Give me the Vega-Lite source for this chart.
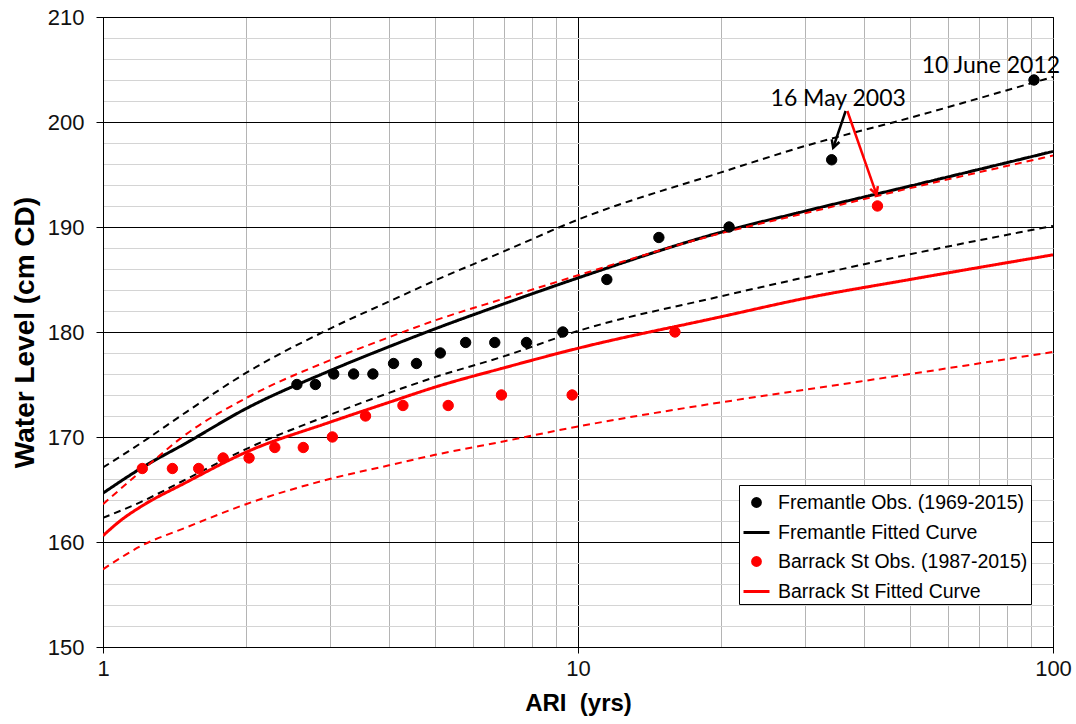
{
  "$schema": "https://vega.github.io/schema/vega-lite/v6.json",
  "autosize": "none",
  "width": 950,
  "height": 630,
  "padding": {"left": 103, "top": 17, "right": 23, "bottom": 77},
  "background": "white",
  "config": {
    "view": {"stroke": "#000", "strokeWidth": 1},
    "font": "Liberation Sans",
    "legend": {
      "orient": "none",
      "legendX": 636,
      "legendY": 468,
      "direction": "vertical",
      "fillColor": "#ffffff",
      "strokeColor": "#000000",
      "padding": 3,
      "rowPadding": 5,
      "symbolSize": 676,
      "symbolStrokeWidth": 3,
      "symbolOpacity": 1,
      "labelOffset": 7,
      "labelFont": "Liberation Sans",
      "labelFontSize": 19.5,
      "labelColor": "#000000",
      "labelLimit": 400
    }
  },
  "datasets": {
    "curves": [
      {"curve": "F fit", "series": "Fremantle Fitted Curve", "kind": "fit", "ari": 1, "level": 164.65},
      {"curve": "F fit", "series": "Fremantle Fitted Curve", "kind": "fit", "ari": 1.2, "level": 167.0},
      {"curve": "F fit", "series": "Fremantle Fitted Curve", "kind": "fit", "ari": 1.5, "level": 169.45},
      {"curve": "F fit", "series": "Fremantle Fitted Curve", "kind": "fit", "ari": 2, "level": 172.7},
      {"curve": "F fit", "series": "Fremantle Fitted Curve", "kind": "fit", "ari": 3, "level": 176.3},
      {"curve": "F fit", "series": "Fremantle Fitted Curve", "kind": "fit", "ari": 4, "level": 178.6},
      {"curve": "F fit", "series": "Fremantle Fitted Curve", "kind": "fit", "ari": 5, "level": 180.3},
      {"curve": "F fit", "series": "Fremantle Fitted Curve", "kind": "fit", "ari": 7, "level": 182.7},
      {"curve": "F fit", "series": "Fremantle Fitted Curve", "kind": "fit", "ari": 10, "level": 185.15},
      {"curve": "F fit", "series": "Fremantle Fitted Curve", "kind": "fit", "ari": 20, "level": 189.5},
      {"curve": "F fit", "series": "Fremantle Fitted Curve", "kind": "fit", "ari": 30, "level": 191.5},
      {"curve": "F fit", "series": "Fremantle Fitted Curve", "kind": "fit", "ari": 50, "level": 193.9},
      {"curve": "F fit", "series": "Fremantle Fitted Curve", "kind": "fit", "ari": 100, "level": 197.2},

      {"curve": "F upper", "series": "Fremantle Fitted Curve", "kind": "bound", "ari": 1, "level": 167.1},
      {"curve": "F upper", "series": "Fremantle Fitted Curve", "kind": "bound", "ari": 1.2, "level": 169.4},
      {"curve": "F upper", "series": "Fremantle Fitted Curve", "kind": "bound", "ari": 1.5, "level": 172.4},
      {"curve": "F upper", "series": "Fremantle Fitted Curve", "kind": "bound", "ari": 2, "level": 176.1},
      {"curve": "F upper", "series": "Fremantle Fitted Curve", "kind": "bound", "ari": 3, "level": 180.3},
      {"curve": "F upper", "series": "Fremantle Fitted Curve", "kind": "bound", "ari": 4, "level": 182.9},
      {"curve": "F upper", "series": "Fremantle Fitted Curve", "kind": "bound", "ari": 5, "level": 184.9},
      {"curve": "F upper", "series": "Fremantle Fitted Curve", "kind": "bound", "ari": 7, "level": 187.7},
      {"curve": "F upper", "series": "Fremantle Fitted Curve", "kind": "bound", "ari": 10, "level": 190.7},
      {"curve": "F upper", "series": "Fremantle Fitted Curve", "kind": "bound", "ari": 20, "level": 195.2},
      {"curve": "F upper", "series": "Fremantle Fitted Curve", "kind": "bound", "ari": 30, "level": 197.7},
      {"curve": "F upper", "series": "Fremantle Fitted Curve", "kind": "bound", "ari": 50, "level": 200.4},
      {"curve": "F upper", "series": "Fremantle Fitted Curve", "kind": "bound", "ari": 100, "level": 204.3},

      {"curve": "F lower", "series": "Fremantle Fitted Curve", "kind": "bound", "ari": 1, "level": 162.3},
      {"curve": "F lower", "series": "Fremantle Fitted Curve", "kind": "bound", "ari": 1.2, "level": 163.8},
      {"curve": "F lower", "series": "Fremantle Fitted Curve", "kind": "bound", "ari": 1.5, "level": 166.0},
      {"curve": "F lower", "series": "Fremantle Fitted Curve", "kind": "bound", "ari": 2, "level": 168.85},
      {"curve": "F lower", "series": "Fremantle Fitted Curve", "kind": "bound", "ari": 3, "level": 172.1},
      {"curve": "F lower", "series": "Fremantle Fitted Curve", "kind": "bound", "ari": 4, "level": 174.2},
      {"curve": "F lower", "series": "Fremantle Fitted Curve", "kind": "bound", "ari": 5, "level": 175.7},
      {"curve": "F lower", "series": "Fremantle Fitted Curve", "kind": "bound", "ari": 7, "level": 177.7},
      {"curve": "F lower", "series": "Fremantle Fitted Curve", "kind": "bound", "ari": 10, "level": 180.1},
      {"curve": "F lower", "series": "Fremantle Fitted Curve", "kind": "bound", "ari": 20, "level": 183.4},
      {"curve": "F lower", "series": "Fremantle Fitted Curve", "kind": "bound", "ari": 30, "level": 185.2},
      {"curve": "F lower", "series": "Fremantle Fitted Curve", "kind": "bound", "ari": 50, "level": 187.4},
      {"curve": "F lower", "series": "Fremantle Fitted Curve", "kind": "bound", "ari": 100, "level": 190.1},

      {"curve": "B fit", "series": "Barrack St Fitted Curve", "kind": "fit", "ari": 1, "level": 160.6},
      {"curve": "B fit", "series": "Barrack St Fitted Curve", "kind": "fit", "ari": 1.1, "level": 162.2},
      {"curve": "B fit", "series": "Barrack St Fitted Curve", "kind": "fit", "ari": 1.2, "level": 163.35},
      {"curve": "B fit", "series": "Barrack St Fitted Curve", "kind": "fit", "ari": 1.5, "level": 165.7},
      {"curve": "B fit", "series": "Barrack St Fitted Curve", "kind": "fit", "ari": 2, "level": 168.55},
      {"curve": "B fit", "series": "Barrack St Fitted Curve", "kind": "fit", "ari": 3, "level": 171.4},
      {"curve": "B fit", "series": "Barrack St Fitted Curve", "kind": "fit", "ari": 4, "level": 173.3},
      {"curve": "B fit", "series": "Barrack St Fitted Curve", "kind": "fit", "ari": 5, "level": 174.75},
      {"curve": "B fit", "series": "Barrack St Fitted Curve", "kind": "fit", "ari": 7, "level": 176.6},
      {"curve": "B fit", "series": "Barrack St Fitted Curve", "kind": "fit", "ari": 10, "level": 178.45},
      {"curve": "B fit", "series": "Barrack St Fitted Curve", "kind": "fit", "ari": 20, "level": 181.45},
      {"curve": "B fit", "series": "Barrack St Fitted Curve", "kind": "fit", "ari": 30, "level": 183.2},
      {"curve": "B fit", "series": "Barrack St Fitted Curve", "kind": "fit", "ari": 50, "level": 185.0},
      {"curve": "B fit", "series": "Barrack St Fitted Curve", "kind": "fit", "ari": 100, "level": 187.35},

      {"curve": "B upper", "series": "Barrack St Fitted Curve", "kind": "bound", "ari": 1, "level": 163.6},
      {"curve": "B upper", "series": "Barrack St Fitted Curve", "kind": "bound", "ari": 1.2, "level": 166.7},
      {"curve": "B upper", "series": "Barrack St Fitted Curve", "kind": "bound", "ari": 1.5, "level": 170.3},
      {"curve": "B upper", "series": "Barrack St Fitted Curve", "kind": "bound", "ari": 2, "level": 173.7},
      {"curve": "B upper", "series": "Barrack St Fitted Curve", "kind": "bound", "ari": 3, "level": 177.3},
      {"curve": "B upper", "series": "Barrack St Fitted Curve", "kind": "bound", "ari": 4, "level": 179.5},
      {"curve": "B upper", "series": "Barrack St Fitted Curve", "kind": "bound", "ari": 5, "level": 181.1},
      {"curve": "B upper", "series": "Barrack St Fitted Curve", "kind": "bound", "ari": 7, "level": 183.2},
      {"curve": "B upper", "series": "Barrack St Fitted Curve", "kind": "bound", "ari": 10, "level": 185.4},
      {"curve": "B upper", "series": "Barrack St Fitted Curve", "kind": "bound", "ari": 20, "level": 189.4},
      {"curve": "B upper", "series": "Barrack St Fitted Curve", "kind": "bound", "ari": 30, "level": 191.3},
      {"curve": "B upper", "series": "Barrack St Fitted Curve", "kind": "bound", "ari": 50, "level": 193.7},
      {"curve": "B upper", "series": "Barrack St Fitted Curve", "kind": "bound", "ari": 100, "level": 196.8},

      {"curve": "B lower", "series": "Barrack St Fitted Curve", "kind": "bound", "ari": 1, "level": 157.4},
      {"curve": "B lower", "series": "Barrack St Fitted Curve", "kind": "bound", "ari": 1.2, "level": 159.6},
      {"curve": "B lower", "series": "Barrack St Fitted Curve", "kind": "bound", "ari": 1.5, "level": 161.4},
      {"curve": "B lower", "series": "Barrack St Fitted Curve", "kind": "bound", "ari": 2, "level": 163.6},
      {"curve": "B lower", "series": "Barrack St Fitted Curve", "kind": "bound", "ari": 3, "level": 166.0},
      {"curve": "B lower", "series": "Barrack St Fitted Curve", "kind": "bound", "ari": 4, "level": 167.3},
      {"curve": "B lower", "series": "Barrack St Fitted Curve", "kind": "bound", "ari": 5, "level": 168.3},
      {"curve": "B lower", "series": "Barrack St Fitted Curve", "kind": "bound", "ari": 7, "level": 169.6},
      {"curve": "B lower", "series": "Barrack St Fitted Curve", "kind": "bound", "ari": 10, "level": 171.0},
      {"curve": "B lower", "series": "Barrack St Fitted Curve", "kind": "bound", "ari": 20, "level": 173.3},
      {"curve": "B lower", "series": "Barrack St Fitted Curve", "kind": "bound", "ari": 30, "level": 174.5},
      {"curve": "B lower", "series": "Barrack St Fitted Curve", "kind": "bound", "ari": 50, "level": 176.0},
      {"curve": "B lower", "series": "Barrack St Fitted Curve", "kind": "bound", "ari": 100, "level": 178.1}
    ],
    "obs": [
      {"series": "Fremantle Obs. (1969-2015)", "ari": 2.56, "level": 175},
      {"series": "Fremantle Obs. (1969-2015)", "ari": 2.80, "level": 175},
      {"series": "Fremantle Obs. (1969-2015)", "ari": 3.06, "level": 176},
      {"series": "Fremantle Obs. (1969-2015)", "ari": 3.37, "level": 176},
      {"series": "Fremantle Obs. (1969-2015)", "ari": 3.70, "level": 176},
      {"series": "Fremantle Obs. (1969-2015)", "ari": 4.09, "level": 177},
      {"series": "Fremantle Obs. (1969-2015)", "ari": 4.57, "level": 177},
      {"series": "Fremantle Obs. (1969-2015)", "ari": 5.13, "level": 178},
      {"series": "Fremantle Obs. (1969-2015)", "ari": 5.80, "level": 179},
      {"series": "Fremantle Obs. (1969-2015)", "ari": 6.68, "level": 179},
      {"series": "Fremantle Obs. (1969-2015)", "ari": 7.79, "level": 179},
      {"series": "Fremantle Obs. (1969-2015)", "ari": 9.29, "level": 180},
      {"series": "Fremantle Obs. (1969-2015)", "ari": 11.5, "level": 185},
      {"series": "Fremantle Obs. (1969-2015)", "ari": 14.8, "level": 189},
      {"series": "Fremantle Obs. (1969-2015)", "ari": 20.8, "level": 190},
      {"series": "Fremantle Obs. (1969-2015)", "ari": 34.2, "level": 196.4},
      {"series": "Fremantle Obs. (1969-2015)", "ari": 91.2, "level": 204},
      {"series": "Barrack St Obs. (1987-2015)", "ari": 1.21, "level": 167},
      {"series": "Barrack St Obs. (1987-2015)", "ari": 1.40, "level": 167},
      {"series": "Barrack St Obs. (1987-2015)", "ari": 1.59, "level": 167},
      {"series": "Barrack St Obs. (1987-2015)", "ari": 1.79, "level": 168},
      {"series": "Barrack St Obs. (1987-2015)", "ari": 2.03, "level": 168},
      {"series": "Barrack St Obs. (1987-2015)", "ari": 2.30, "level": 169},
      {"series": "Barrack St Obs. (1987-2015)", "ari": 2.64, "level": 169},
      {"series": "Barrack St Obs. (1987-2015)", "ari": 3.04, "level": 170},
      {"series": "Barrack St Obs. (1987-2015)", "ari": 3.57, "level": 172},
      {"series": "Barrack St Obs. (1987-2015)", "ari": 4.28, "level": 173},
      {"series": "Barrack St Obs. (1987-2015)", "ari": 5.33, "level": 173},
      {"series": "Barrack St Obs. (1987-2015)", "ari": 6.90, "level": 174},
      {"series": "Barrack St Obs. (1987-2015)", "ari": 9.72, "level": 174},
      {"series": "Barrack St Obs. (1987-2015)", "ari": 16.0, "level": 180},
      {"series": "Barrack St Obs. (1987-2015)", "ari": 42.7, "level": 192}
    ],
    "notes": [
      {"label": "10 June 2012", "ari": 74, "level": 205.3},
      {"label": "16 May 2003", "ari": 35.3, "level": 202.2}
    ],
    "arrows": [
      {"event": "Fremantle", "ari": 36.6, "level": 201.05, "ari2": 34.45, "level2": 197.55},
      {"event": "Barrack St", "ari": 36.9, "level": 201.05, "ari2": 42.5, "level2": 193.1}
    ]
  },
  "encoding": {
    "x": {
      "field": "ari", "type": "quantitative",
      "scale": {"type": "log", "domain": [1, 100], "nice": false},
      "axis": {
        "title": "ARI\u00a0 (yrs)",
        "values": [1, 2, 3, 4, 5, 6, 7, 8, 9, 10, 20, 30, 40, 50, 60, 70, 80, 90, 100],
        "labelExpr": "datum.value == 1 || datum.value == 10 || datum.value == 100 ? format(datum.value, 'd') : ''",
        "grid": true,
        "gridColor": {"condition": {"test": "datum.value == 1 || datum.value == 10 || datum.value == 100", "value": "#000000"}, "value": "#b4b4b4"},
        "gridWidth": 1,
        "tickColor": {"condition": {"test": "datum.value == 1 || datum.value == 10 || datum.value == 100", "value": "#000000"}, "value": "transparent"},
        "tickSize": 6,
        "domainColor": "#000000",
        "labelFont": "Liberation Sans", "labelFontSize": 22, "labelColor": "#111111", "labelPadding": 5,
        "labelFlush": false, "labelOverlap": false,
        "titleFont": "Liberation Sans", "titleFontSize": 24, "titleFontWeight": "bold", "titleColor": "#000000", "titlePadding": 12
      }
    },
    "y": {
      "field": "level", "type": "quantitative",
      "scale": {"domain": [150, 210], "nice": false, "zero": false},
      "axis": {
        "title": "Water Level (cm CD)",
        "values": [150, 152, 154, 156, 158, 160, 162, 164, 166, 168, 170, 172, 174, 176, 178, 180, 182, 184, 186, 188, 190, 192, 194, 196, 198, 200, 202, 204, 206, 208, 210],
        "labelExpr": "datum.value % 10 == 0 ? format(datum.value, 'd') : ''",
        "grid": true,
        "gridColor": {"condition": {"test": "datum.value % 10 == 0", "value": "#000000"}, "value": "#d4d4d4"},
        "gridWidth": 1,
        "tickColor": {"condition": {"test": "datum.value % 10 == 0", "value": "#000000"}, "value": "transparent"},
        "tickSize": 7,
        "domainColor": "#000000",
        "labelFont": "Liberation Sans", "labelFontSize": 22, "labelColor": "#111111", "labelPadding": 12,
        "labelOverlap": false,
        "titleFont": "Liberation Sans", "titleFontSize": 28, "titleFontWeight": "bold", "titleColor": "#000000", "titlePadding": 8
      }
    }
  },
  "layer": [
    {
      "data": {"name": "curves"},
      "mark": {"type": "line", "interpolate": "monotone", "clip": true},
      "encoding": {
        "detail": {"field": "curve"},
        "stroke": {
          "field": "series", "type": "nominal",
          "scale": {
            "domain": ["Fremantle Obs. (1969-2015)", "Fremantle Fitted Curve", "Barrack St Obs. (1987-2015)", "Barrack St Fitted Curve"],
            "range": ["#000000", "#000000", "#ff0000", "#ff0000"]
          },
          "legend": {"title": null}
        },
        "strokeDash": {"field": "kind", "type": "nominal", "scale": {"domain": ["fit", "bound"], "range": [[1, 0], [7, 5]]}, "legend": null},
        "strokeWidth": {"field": "kind", "type": "nominal", "scale": {"domain": ["fit", "bound"], "range": [3, 2]}, "legend": null}
      }
    },
    {
      "data": {"name": "obs"},
      "mark": {"type": "point", "filled": true, "size": 1200, "opacity": 1, "strokeWidth": 1},
      "encoding": {
        "fill": {
          "field": "series", "type": "nominal",
          "scale": {
            "domain": ["Fremantle Obs. (1969-2015)", "Fremantle Fitted Curve", "Barrack St Obs. (1987-2015)", "Barrack St Fitted Curve"],
            "range": ["#000000", "#000000", "#ff0000", "#ff0000"]
          },
          "legend": {"title": null}
        },
        "stroke": {"field": "series", "type": "nominal", "legend": {"title": null}},
        "shape": {
          "field": "series", "type": "nominal",
          "scale": {
            "domain": ["Fremantle Obs. (1969-2015)", "Fremantle Fitted Curve", "Barrack St Obs. (1987-2015)", "Barrack St Fitted Curve"],
            "range": [
              "M -0.3 0 A 0.3 0.3 0 1 1 0.3 0 A 0.3 0.3 0 1 1 -0.3 0 Z",
              "stroke",
              "M -0.3 0 A 0.3 0.3 0 1 1 0.3 0 A 0.3 0.3 0 1 1 -0.3 0 Z",
              "stroke"
            ]
          },
          "legend": {"title": null}
        }
      }
    },
    {
      "data": {"name": "arrows"},
      "transform": [{"filter": "datum.event == 'Fremantle'"}],
      "mark": {"type": "rule", "color": "#000000", "strokeWidth": 2.5},
      "encoding": {"x2": {"field": "ari2"}, "y2": {"field": "level2"}}
    },
    {
      "data": {"name": "arrows"},
      "transform": [{"filter": "datum.event == 'Fremantle'"}],
      "mark": {"type": "point", "shape": "M -0.55 -1 L 0 0 L 0.55 -1", "filled": false, "stroke": "#000000", "strokeWidth": 2.5, "size": 220, "angle": 19, "opacity": 1},
      "encoding": {"x": {"field": "ari2", "type": "quantitative"}, "y": {"field": "level2", "type": "quantitative"}}
    },
    {
      "data": {"name": "arrows"},
      "transform": [{"filter": "datum.event == 'Barrack St'"}],
      "mark": {"type": "rule", "color": "#ff0000", "strokeWidth": 2.5},
      "encoding": {"x2": {"field": "ari2"}, "y2": {"field": "level2"}}
    },
    {
      "data": {"name": "arrows"},
      "transform": [{"filter": "datum.event == 'Barrack St'"}],
      "mark": {"type": "point", "shape": "M -0.55 -1 L 0 0 L 0.55 -1", "filled": false, "stroke": "#ff0000", "strokeWidth": 2.5, "size": 220, "angle": 340.6, "opacity": 1},
      "encoding": {"x": {"field": "ari2", "type": "quantitative"}, "y": {"field": "level2", "type": "quantitative"}}
    },
    {
      "data": {"name": "notes"},
      "mark": {"type": "text", "font": "Lato", "fontSize": 23, "color": "#000000", "align": "center", "baseline": "middle"},
      "encoding": {"text": {"field": "label"}}
    }
  ]
}
